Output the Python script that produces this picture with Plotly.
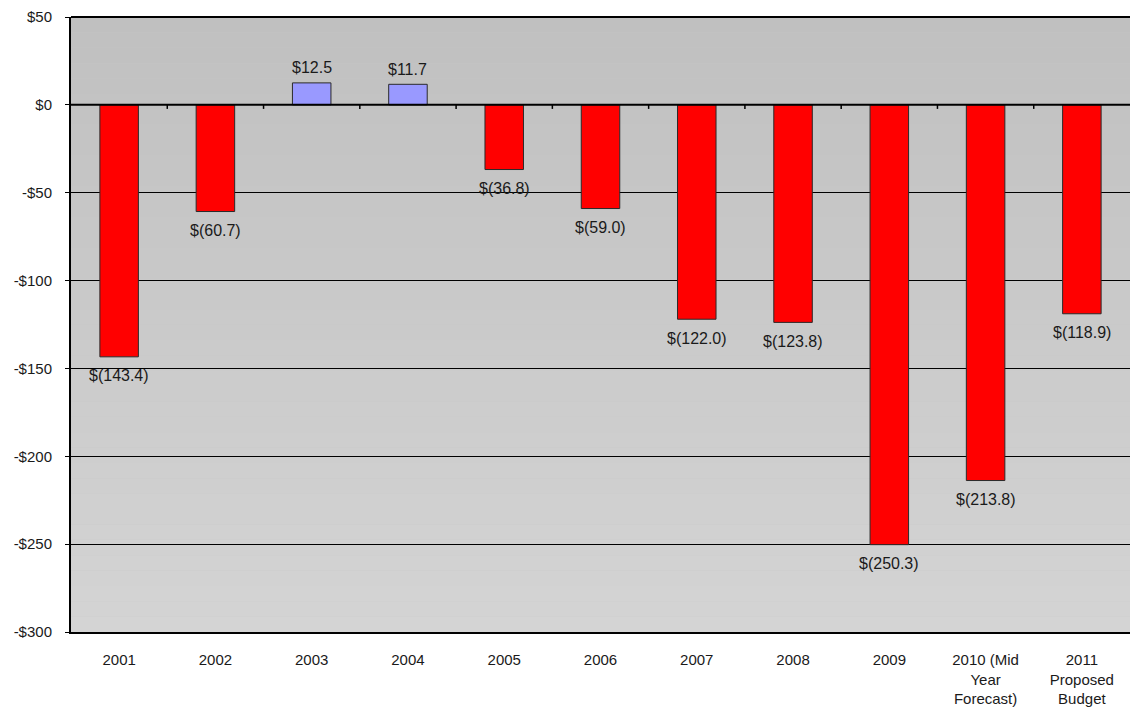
import plotly.graph_objects as go

# Annual surplus / (deficit), $ millions
categories = ["2001", "2002", "2003", "2004", "2005", "2006", "2007", "2008",
              "2009", "2010 (Mid<br>Year<br>Forecast)", "2011<br>Proposed<br>Budget"]
values = [-143.4, -60.7, 12.5, 11.7, -36.8, -59.0, -122.0, -123.8, -250.3, -213.8, -118.9]
y_ticks = [50, 0, -50, -100, -150, -200, -250, -300]
y_tick_labels = ["$50", "$0", "-$50", "-$100", "-$150", "-$200", "-$250", "-$300"]

FONT = "Liberation Sans, Arial, sans-serif"
TEXT = "#1a1a1a"

def money(v):
    return f"${v:.1f}" if v >= 0 else f"$({abs(v):.1f})"

x = list(range(len(categories)))
colors = ["#9999ff" if v >= 0 else "#ff0000" for v in values]

fig = go.Figure()
fig.add_trace(go.Bar(
    x=x, y=values,
    marker=dict(color=colors, line=dict(color="#2a2a2a", width=1)),
    width=0.4,
    cliponaxis=False,
))

# Value labels just beyond the end of each bar
annotations = []
for xi, v in zip(x, values):
    annotations.append(dict(
        x=xi, y=v, xref="x", yref="y", text=money(v), showarrow=False,
        yanchor="middle", xanchor="center",
        yshift=15 if v >= 0 else -19,
        font=dict(family=FONT, size=16, color=TEXT),
    ))

# Vertical gradient for the plot background
n_bands = 40
top_c, bot_c = 192, 212
shapes = []
for i in range(n_bands):
    y0 = i / n_bands
    y1 = (i + 1) / n_bands
    c = round(bot_c + (top_c - bot_c) * (i + 0.5) / n_bands)
    shapes.append(dict(type="rect", xref="paper", yref="paper", x0=0, x1=1,
                       y0=y0, y1=y1, line=dict(width=0),
                       fillcolor=f"rgb({c},{c},{c})", layer="below"))

# Category tick marks on the zero line
for b in range(len(categories) - 1):
    shapes.append(dict(type="line", xref="x", yref="y", x0=b + 0.5, x1=b + 0.5,
                       y0=0, y1=-2.3, line=dict(color="#000000", width=1.5)))
# Zero line
shapes.append(dict(type="line", xref="paper", yref="y", x0=0, x1=1, y0=0, y1=0,
                   line=dict(color="#000000", width=2)))
# Top border
shapes.append(dict(type="line", xref="paper", yref="paper", x0=0, x1=1, y0=1, y1=1,
                   line=dict(color="#000000", width=2)))

fig.update_layout(
    width=1130, height=707,
    margin=dict(l=71, r=0, t=17, b=75),
    paper_bgcolor="white",
    plot_bgcolor="#c8c8c8",
    showlegend=False,
    shapes=shapes,
    annotations=annotations,
    font=dict(family=FONT, size=15, color=TEXT),
    xaxis=dict(
        tickmode="array", tickvals=x, ticktext=categories,
        range=[-0.5, len(categories) - 0.5],
        showgrid=False, zeroline=False,
        showline=True, linecolor="#000000", linewidth=2,
        ticks="outside", ticklen=13, tickcolor="rgba(0,0,0,0)",
        tickfont=dict(family=FONT, size=15, color=TEXT),
    ),
    yaxis=dict(
        range=[-300, 50],
        tickmode="array", tickvals=y_ticks, ticktext=y_tick_labels,
        showgrid=True, gridcolor="#000000", gridwidth=1,
        zeroline=False,
        showline=True, linecolor="#000000", linewidth=2,
        ticks="outside", ticklen=4, tickcolor="#000000", tickwidth=1,
        ticklabelstandoff=10,
        tickfont=dict(family=FONT, size=15, color=TEXT),
    ),
)

fig.write_html("out.html")
